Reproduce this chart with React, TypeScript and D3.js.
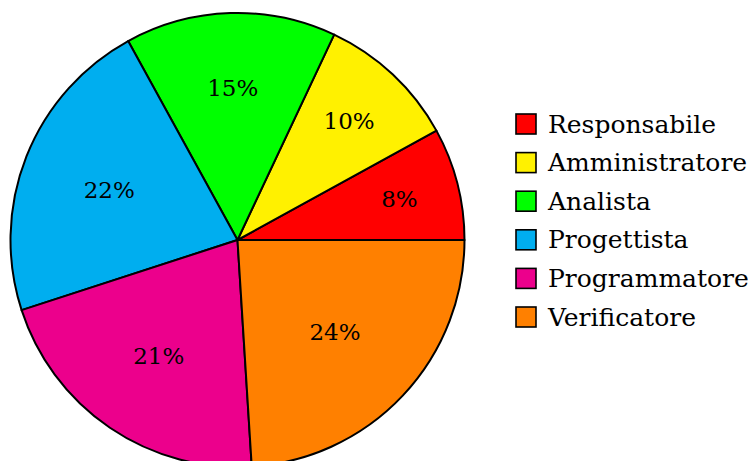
import { useEffect, useRef } from 'react';
import * as d3 from 'd3';

// Chart data
const ROLES = ["Responsabile", "Amministratore", "Analista", "Progettista", "Programmatore", "Verificatore"];
const SHARES = [8, 10, 15, 22, 21, 24];
const COLORS = ["#FF0000", "#FFF100", "#00FF00", "#00AEEF", "#EC008C", "#FF8000"];

const WIDTH = 751;
const HEIGHT = 461;
const FONT = "DejaVu Serif";

export default function App() {
  const ref = useRef<SVGSVGElement>(null);

  useEffect(() => {
    if (!ref.current) return;
    const svg = d3.select(ref.current);
    svg.selectAll("*").remove();

    const cx = 237.5;
    const cy = 240;
    const radius = 227;

    const items = ROLES.map((name, i) => ({ name, value: SHARES[i], color: COLORS[i] }));

    // counter-clockwise from 3 o'clock, like pgf-pie
    const pie = d3.pie<any>()
      .sort(null)
      .value((d: any) => d.value)
      .startAngle(Math.PI / 2)
      .endAngle(Math.PI / 2 - 2 * Math.PI);

    const arc = d3.arc<any>().innerRadius(0).outerRadius(radius);
    const arcs = pie(items);

    const g = svg.append("g").attr("transform", `translate(${cx},${cy})`);

    g.selectAll("path")
      .data(arcs)
      .join("path")
      .attr("d", arc)
      .attr("fill", (d: any) => d.data.color)
      .attr("stroke", "#000")
      .attr("stroke-width", 2)
      .attr("stroke-linejoin", "round");

    // labels sit closer to the centre for bigger slices
    g.selectAll("text")
      .data(arcs)
      .join("text")
      .attr("transform", (d: any) => {
        const a = (d.startAngle + d.endAngle) / 2;
        const lr = radius * (0.81 - 0.0092 * d.data.value);
        return `translate(${lr * Math.sin(a)},${-lr * Math.cos(a)})`;
      })
      .attr("text-anchor", "middle")
      .attr("dy", "0.36em")
      .style("font-family", FONT)
      .style("font-size", "23px")
      .attr("fill", "#000")
      .text((d: any) => `${d.data.value}%`);

    // legend
    const legend = svg.append("g").attr("transform", "translate(516,114)");
    const row = legend.selectAll("g")
      .data(items)
      .join("g")
      .attr("transform", (_d: any, i: number) => `translate(0,${i * 38.6})`);

    row.append("rect")
      .attr("width", 20)
      .attr("height", 20)
      .attr("fill", (d: any) => d.color)
      .attr("stroke", "#000")
      .attr("stroke-width", 1.6);

    row.append("text")
      .attr("x", 32)
      .attr("y", 18.5)
      .style("font-family", FONT)
      .style("font-size", "25px")
      .attr("fill", "#000")
      .text((d: any) => d.name);
  }, []);

  return (
    <svg
      ref={ref}
      width={WIDTH}
      height={HEIGHT}
      style={{ position: 'absolute', left: 0, top: 0, background: '#fff' }}
    />
  );
}
